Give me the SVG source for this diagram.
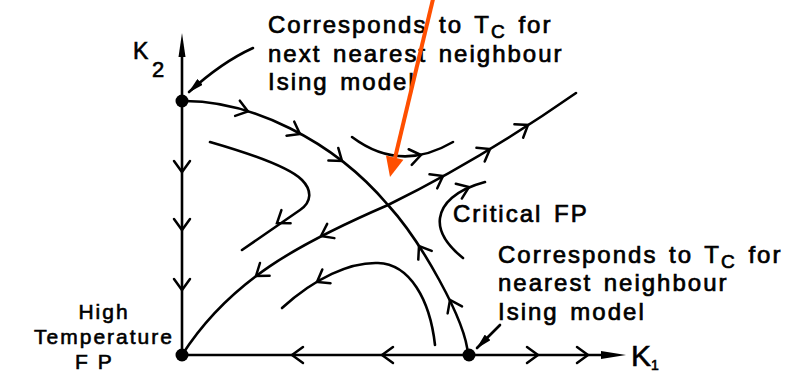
<svg xmlns="http://www.w3.org/2000/svg" xmlns:xlink="http://www.w3.org/1999/xlink" width="790" height="375" viewBox="0 0 790 375">
<style>
.ln{fill:none;stroke:#000;stroke-width:2.6;stroke-linecap:round;stroke-linejoin:round}
.ch{fill:none;stroke:#000;stroke-width:2.5;stroke-linecap:round;stroke-linejoin:miter}
.tx{font-family:"Liberation Sans",Arial,sans-serif;font-size:24px;letter-spacing:2px;word-spacing:3px;fill:#000;stroke:#000;stroke-width:0.7}
.lt{font-family:"Liberation Sans",Arial,sans-serif;font-size:21px;letter-spacing:2px;fill:#000;stroke:#000;stroke-width:0.6}
.ax{font-family:"Liberation Sans",Arial,sans-serif;fill:#000;stroke:#000;stroke-width:0.6}
.dot{fill:#000}
</style>
<defs>
<path id="chev" class="ch" d="M-11,-8 L0,0 L-11,8"/>
<marker id="ptr" viewBox="0 0 16 8" refX="15" refY="4" markerWidth="16" markerHeight="8" markerUnits="userSpaceOnUse" orient="auto">
<path d="M0,0 L16,4 L0,8 z" fill="#000"/>
</marker>
</defs>
<rect width="790" height="375" fill="#fff"/>

<g id="axes">
<line class="ln" x1="182" y1="355" x2="182" y2="55"/>
<polygon points="182,33 178.5,57 185.5,57" fill="#000"/>
<line class="ln" x1="182" y1="355" x2="603" y2="355"/>
<polygon points="626,355 601,351 601,359" fill="#000"/>
</g>

<g id="connectors">
<path id="separatrix-nn" class="ln" d="M182,101 C250,100 333,140 388,205 C420,240 466,320 468,355"/>
<path id="critical-line" class="ln" d="M182,355 C230,280 300,243 388,205 Q480,160 576,93"/>
<path id="flow-upper-left" class="ln" d="M210,142 C255,155 290,168 302,180 C312,190 312,202 300,210 L242,250"/>
<path id="flow-top" class="ln" d="M352,137 Q400,173 453,142"/>
<path id="flow-right" class="ln" d="M463,258 C447,245 438,232 440,218 C442,204 455,190 485,182"/>
<path id="flow-lower" class="ln" d="M435,345 C430,300 410,264 378,263 C350,262 315,278 282,308"/>
<path id="pointer-top" class="ln" d="M253,48 Q222,62 189,92" marker-end="url(#ptr)"/>
<path id="pointer-right" class="ln" d="M500,325 L477,348" marker-end="url(#ptr)"/>
<g id="flow-arrows">
<use xlink:href="#chev" transform="translate(182,172) rotate(90)"/>
<use xlink:href="#chev" transform="translate(182,230) rotate(90)"/>
<use xlink:href="#chev" transform="translate(182,290) rotate(90)"/>
<use xlink:href="#chev" transform="translate(292,355) rotate(180)"/>
<use xlink:href="#chev" transform="translate(382,355) rotate(180)"/>
<use xlink:href="#chev" transform="translate(538,355)"/>
<use xlink:href="#chev" transform="translate(588,355)"/>
<use xlink:href="#chev" transform="translate(248,111.5) rotate(17)"/>
<use xlink:href="#chev" transform="translate(300,134) rotate(29)"/>
<use xlink:href="#chev" transform="translate(342,161) rotate(38)"/>
<use xlink:href="#chev" transform="translate(419,246) rotate(237)"/>
<use xlink:href="#chev" transform="translate(450,300) rotate(244)"/>
<use xlink:href="#chev" transform="translate(256,276) rotate(143)"/>
<use xlink:href="#chev" transform="translate(321,236) rotate(153)"/>
<use xlink:href="#chev" transform="translate(443,176) rotate(-29)"/>
<use xlink:href="#chev" transform="translate(490,149) rotate(-31)"/>
<use xlink:href="#chev" transform="translate(528,125) rotate(-33)"/>
<use xlink:href="#chev" transform="translate(277,223) rotate(145)"/>
<use xlink:href="#chev" transform="translate(421,155) rotate(-11)"/>
<use xlink:href="#chev" transform="translate(469,187) rotate(-22)"/>
<use xlink:href="#chev" transform="translate(317,282) rotate(149)"/>
</g>
</g>

<g id="fp-next-nearest"><circle class="dot" cx="182" cy="101" r="6.5"/></g>
<g id="fp-high-temperature"><circle class="dot" cx="182" cy="355" r="6.5"/></g>
<g id="fp-nearest"><circle class="dot" cx="469" cy="355" r="6.5"/></g>

<g id="label-k2"><text class="ax" x="133" y="59" font-size="23">K</text><text class="ax" x="152" y="77" font-size="22">2</text></g>
<g id="label-k1"><text class="ax" x="631" y="366" font-size="30">K</text><text class="ax" x="651" y="370" font-size="14">1</text></g>

<g id="label-top">
<text class="tx" x="268" y="33">Corresponds to T<tspan font-size="19" dy="5">C</tspan><tspan dy="-5"> for</tspan></text>
<text class="tx" x="268" y="62">next nearest neighbour</text>
<text class="tx" x="268" y="90">Ising model</text>
</g>
<g id="label-critical"><text class="tx" x="453" y="222">Critical FP</text></g>
<g id="label-right">
<text class="tx" x="498" y="263">Corresponds to T<tspan font-size="19" dy="5">C</tspan><tspan dy="-5"> for</tspan></text>
<text class="tx" x="498" y="291">nearest neighbour</text>
<text class="tx" x="498" y="320">Ising model</text>
</g>
<g id="label-high-temp">
<text class="lt" x="104" y="319" text-anchor="middle">High</text>
<text class="lt" x="104" y="344" text-anchor="middle">Temperature</text>
<text class="lt" x="75" y="369">F P</text>
</g>

<g id="annotation-arrow">
<line x1="434" y1="-5" x2="395" y2="158" stroke="#ff4f00" stroke-width="4"/>
<polygon points="390,177 386,155.5 403.4,159.7" fill="#ff4f00"/>
</g>
</svg>
